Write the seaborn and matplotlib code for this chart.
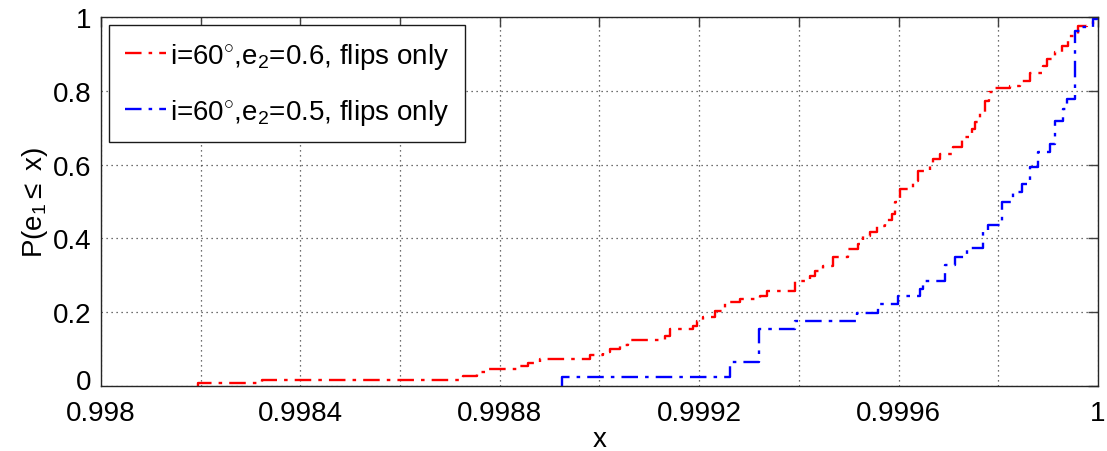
import numpy as np
import pandas as pd
import matplotlib
matplotlib.use("Agg")
import matplotlib.pyplot as plt
import matplotlib.transforms as mtransforms
import seaborn as sns

# Empirical CDF step locations (e1 values) and the CDF level reached at each step
red_x = [0.998195, 0.998323, 0.998726, 0.998754, 0.998776, 0.998837, 0.998857,
         0.998881, 0.998981, 0.999007, 0.999021, 0.999041, 0.999057, 0.999131,
         0.999141, 0.999188, 0.999196, 0.999208, 0.999232, 0.999252, 0.999282,
         0.999322, 0.999336, 0.999392, 0.999422, 0.999432, 0.999448, 0.999468,
         0.999499, 0.999519, 0.999529, 0.999543, 0.999557, 0.999573, 0.999587,
         0.999593, 0.999603, 0.999629, 0.999639, 0.999663, 0.999669, 0.999683,
         0.999709, 0.999727, 0.999747, 0.999753, 0.999763, 0.999773, 0.999781,
         0.999793, 0.999823, 0.999844, 0.999864, 0.999890, 0.999898, 0.999914,
         0.999928, 0.999940, 0.999960, 0.999978, 0.999990, 0.999998]
red_p = [0.008, 0.017, 0.026, 0.037, 0.046, 0.055, 0.062,
         0.073, 0.084, 0.093, 0.100, 0.111, 0.126, 0.136,
         0.154, 0.163, 0.177, 0.187, 0.204, 0.228, 0.236,
         0.245, 0.258, 0.285, 0.299, 0.312, 0.326, 0.350,
         0.371, 0.385, 0.406, 0.418, 0.434, 0.451, 0.466,
         0.498, 0.534, 0.556, 0.583, 0.602, 0.615, 0.629,
         0.648, 0.675, 0.697, 0.715, 0.743, 0.773, 0.797,
         0.808, 0.812, 0.827, 0.848, 0.868, 0.886, 0.904,
         0.922, 0.949, 0.976, 0.981, 0.995, 1.000]

blue_x = [0.998925, 0.999262, 0.999320, 0.999392, 0.999517, 0.999559, 0.999599,
          0.999643, 0.999649, 0.999693, 0.999713, 0.999737, 0.999769, 0.999779,
          0.999807, 0.999829, 0.999848, 0.999864, 0.999880, 0.999904, 0.999914,
          0.999930, 0.999938, 0.999954, 0.999968, 0.999990, 0.999998]
blue_p = [0.025, 0.066, 0.154, 0.177, 0.198, 0.222, 0.245,
          0.263, 0.285, 0.328, 0.350, 0.373, 0.417, 0.436,
          0.498, 0.525, 0.547, 0.593, 0.634, 0.656, 0.719,
          0.750, 0.778, 0.963, 0.973, 0.995, 1.000]

labels = [r"i=60$^{\circ}$,e$_2$=0.6, flips only",
          r"i=60$^{\circ}$,e$_2$=0.5, flips only"]
colors = ["#ff0000", "#0000ff"]

xtick_vals = [0.998, 0.9982, 0.9984, 0.9986, 0.9988, 0.999, 0.9992, 0.9994,
              0.9996, 0.9998, 1.0]
xtick_text = ["0.998", "", "0.9984", "", "0.9988", "", "0.9992", "",
              "0.9996", "", "1"]
ytick_vals = [0, 0.2, 0.4, 0.6, 0.8, 1.0]
ytick_text = ["0", "0.2", "0.4", "0.6", "0.8", "1"]


def ecdf_frame(xs, ps, name):
    # start each curve from zero at its first step
    return pd.DataFrame({"x": [xs[0]] + list(xs),
                         "p": [0.0] + list(ps),
                         "series": name})


sns.set_style("white")
plt.rcParams["font.family"] = ["Liberation Sans", "DejaVu Sans"]
plt.rcParams["mathtext.fontset"] = "custom"
plt.rcParams["mathtext.rm"] = "Liberation Sans"
plt.rcParams["mathtext.it"] = "Liberation Sans"
plt.rcParams["mathtext.sf"] = "Liberation Sans"
plt.rcParams["text.color"] = "black"
plt.rcParams["axes.labelcolor"] = "black"
plt.rcParams["xtick.labelcolor"] = "black"
plt.rcParams["ytick.labelcolor"] = "black"

fig = plt.figure(figsize=(11.07, 4.52), dpi=100)
ax = fig.add_axes([0.0912, 0.1438, 0.9007, 0.8164])

for xs, ps, lab, col in zip([red_x, blue_x], [red_p, blue_p], labels, colors):
    df = ecdf_frame(xs, ps, lab)
    sns.lineplot(data=df, x="x", y="p", ax=ax, color=col, label=lab,
                 estimator=None, sort=False, drawstyle="steps-post",
                 linestyle=(0, (7, 3, 1.5, 3)), linewidth=1.7)

ax.set_xlim(0.998, 1.0)
ax.set_ylim(0, 1)
ax.set_xticks(xtick_vals)
ax.set_xticklabels(xtick_text)
ax.set_yticks(ytick_vals)
ax.set_yticklabels(ytick_text)

ax.grid(True, linestyle=(0, (1, 3)), color="0.25", linewidth=0.9)
ax.tick_params(axis="both", which="both", direction="in", length=7,
               width=1.0, color="0.25", labelsize=20, top=True, right=True)
ax.tick_params(axis="x", pad=10)
ax.tick_params(axis="y", pad=7)
for s in ax.spines.values():
    s.set_color("0.15")
    s.set_linewidth(1.0)

# nudge the bottom y tick label up so it clears the first x tick label
zero_lab = ax.get_yticklabels()[0]
zero_lab.set_transform(zero_lab.get_transform() +
                       mtransforms.ScaledTranslation(0, 5 / 72, fig.dpi_scale_trans))

ax.set_xlabel("x", fontsize=20, labelpad=0)
ax.set_ylabel(r"P(e$_1$$\leq$ x)", fontsize=20, labelpad=2)

leg = ax.legend(loc="upper left", fontsize=20, frameon=True, fancybox=False,
                framealpha=1.0, edgecolor="0.1", handlelength=1.5,
                handletextpad=0.15, borderaxespad=0.3, labelspacing=0.95,
                borderpad=0.55)
leg.get_frame().set_linewidth(1.0)

fig.savefig("out.png", dpi=100, facecolor="white")
